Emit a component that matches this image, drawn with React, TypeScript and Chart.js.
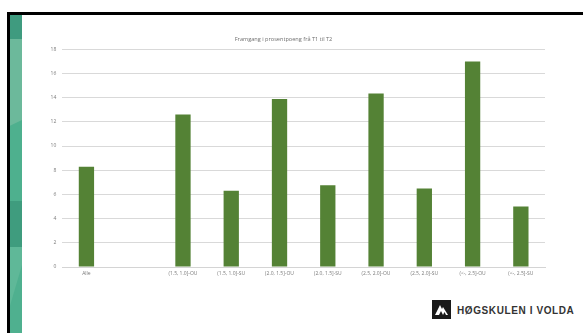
import React, { useEffect, useRef } from "react";
import { Chart, registerables } from "chart.js";

Chart.register(...registerables);

const chartTitle = "Framgang i prosentpoeng frå T1 til T2";
const categories = [
  "Alle",
  "",
  "(1.5, 1.0]-OU",
  "(1.5, 1.0]-SU",
  "(2.0, 1.5]-OU",
  "(2.0, 1.5]-SU",
  "(2.5, 2.0]-OU",
  "(2.5, 2.0]-SU",
  "(<-, 2.5]-OU",
  "(<-, 2.5]-SU",
];
const values = [8.3, null, 12.6, 6.3, 13.9, 6.75, 14.35, 6.5, 17.0, 5.0];
const yMin = 0;
const yMax = 18;
const yStep = 2;

const FONT = "'Open Sans', 'Liberation Sans', sans-serif";

export default function App() {
  const ref = useRef<HTMLCanvasElement | null>(null);

  useEffect(() => {
    const canvas = ref.current;
    if (!canvas) return;
    const chart = new Chart(canvas, {
      type: "bar",
      data: {
        labels: categories,
        datasets: [
          {
            data: values as any,
            backgroundColor: "#548235",
            borderWidth: 0,
            barPercentage: 0.317,
            categoryPercentage: 1,
          },
        ],
      },
      options: {
        responsive: false,
        animation: false,
        devicePixelRatio: 1,
        layout: { padding: { left: 0, right: 35, top: 0, bottom: 0 } },
        plugins: {
          legend: { display: false },
          tooltip: { enabled: false },
          title: {
            display: true,
            text: chartTitle,
            color: "#6f6f6f",
            font: { family: FONT, size: 5.6, weight: "normal" as any, lineHeight: 1.2 },
            padding: { top: 19.6, bottom: 7 },
          },
        },
        scales: {
          x: {
            grid: { display: false, drawTicks: false },
            border: { display: true, color: "#d4d4d4", width: 1 },
            ticks: {
              color: "#7a7a7a",
              font: { family: FONT, size: 5 },
              maxRotation: 0,
              minRotation: 0,
              autoSkip: false,
              padding: 4,
            },
            afterFit: (s: any) => {
              s.height = 19;
            },
          },
          y: {
            min: yMin,
            max: yMax,
            ticks: {
              stepSize: yStep,
              color: "#7a7a7a",
              font: { family: FONT, size: 5 },
              padding: 6,
            },
            grid: { color: "#d9d9d9", lineWidth: 1, drawTicks: false },
            border: { display: false },
            afterFit: (s: any) => {
              s.width = 40.3;
            },
          },
        },
      },
    });
    return () => chart.destroy();
  }, []);

  return (
    <div
      style={{
        position: "fixed",
        left: 0,
        top: 0,
        width: 583,
        height: 333,
        background: "#ffffff",
        overflow: "hidden",
      }}
    >
      {/* top black border */}
      <div style={{ position: "absolute", left: 7, top: 12, width: 576, height: 3, background: "#000" }} />
      {/* left black border */}
      <div style={{ position: "absolute", left: 7, top: 12, width: 3, height: 321, background: "#000" }} />
      {/* green decorative strip */}
      <div style={{ position: "absolute", left: 10, top: 15, width: 12, height: 318, overflow: "hidden" }}>
        <div style={{ position: "absolute", left: 0, top: 0, width: 12, height: 24, background: "#3f9b7f" }} />
        <div style={{ position: "absolute", left: 0, top: 24, width: 12, height: 90, background: "#6cb99b" }} />
        <div style={{ position: "absolute", left: 0, top: 105, width: 12, height: 95, background: "#4eb08e", clipPath: "polygon(0 6%, 100% 0, 100% 100%, 0 100%)" }} />
        <div style={{ position: "absolute", left: 0, top: 186, width: 12, height: 46, background: "#3f9c7e" }} />
        <div style={{ position: "absolute", left: 0, top: 232, width: 12, height: 86, background: "#5fb898" }} />
        <div style={{ position: "absolute", left: 0, top: 250, width: 12, height: 68, background: "#4fb08f", clipPath: "polygon(100% 0, 100% 100%, 0 100%, 0 60%)" }} />
      </div>
      <canvas
        ref={ref}
        width={558}
        height={270}
        style={{ position: "absolute", left: 22, top: 16, width: 558, height: 270 }}
      />
      {/* logo */}
      <div style={{ position: "absolute", left: 432, top: 300, width: 19, height: 19, background: "#1a1a1a" }}>
        <svg width="19" height="19" viewBox="0 0 19 19">
          <polygon points="3,15 8,5 10,9 11,7 16,15" fill="#ffffff" />
          <polygon points="7,15 9,11 11,15" fill="#1a1a1a" />
          <polygon points="11,15 12.5,12 14,15" fill="#1a1a1a" />
        </svg>
      </div>
      <div
        style={{
          position: "absolute",
          left: 457,
          top: 304,
          fontFamily: "'Liberation Sans', Arial, sans-serif",
          fontWeight: "bold",
          fontSize: 10,
          lineHeight: "14px",
          letterSpacing: 0.6,
          color: "#333333",
          whiteSpace: "nowrap",
        }}
      >
        HØGSKULEN I VOLDA
      </div>
    </div>
  );
}
